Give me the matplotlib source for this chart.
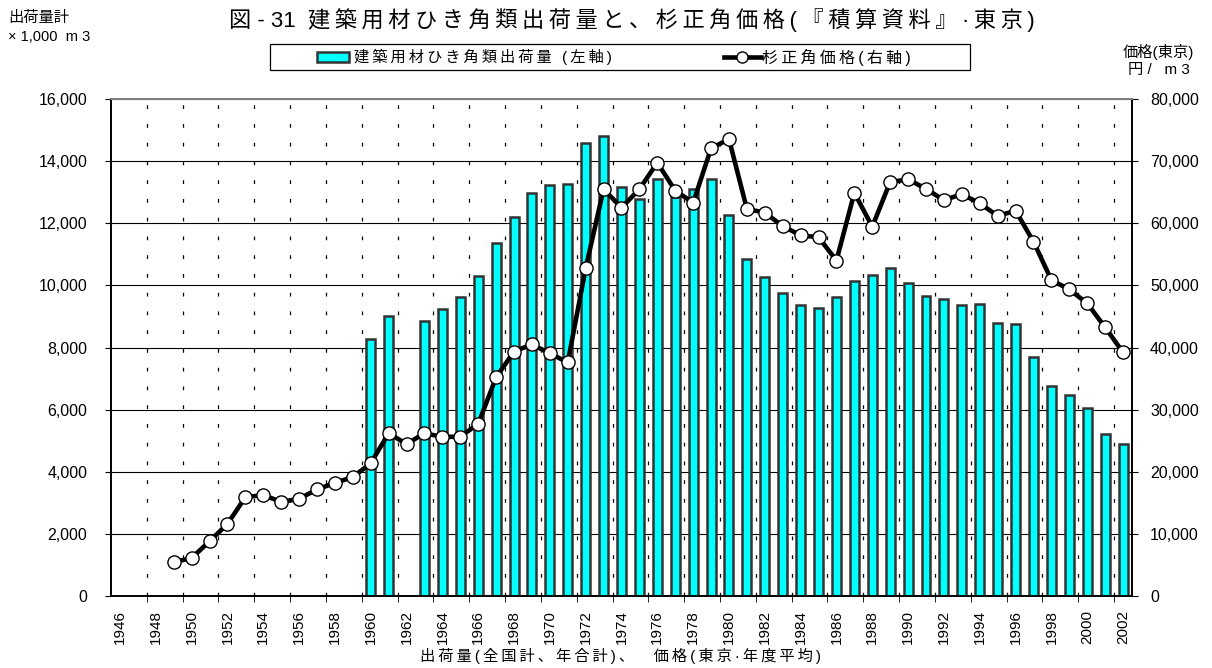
import matplotlib
matplotlib.use("Agg")
import matplotlib.pyplot as plt
import numpy as np
from matplotlib.lines import Line2D
from matplotlib.patches import Patch, Rectangle

plt.rcParams['font.family'] = ['Liberation Sans', 'Noto Sans CJK JP', 'DejaVu Sans']

years = list(range(1946, 2003))
nan = np.nan
# shipments, 1,000 m3 (left axis)
shipments = [nan] * 14 + [
    8260, 9030, nan, 8860, 9250, 9620, 10300, 11350, 12200, 12980,
    13240, 13260, 14570, 14810, 13160, 12790, 13410, 12830, 13110, 13410,
    12280, 10840, 10270, 9740, 9360, 9260, 9610, 10130, 10330, 10560,
    10090, 9660, 9570, 9360, 9400, 8780, 8760, 7700, 6760, 6460,
    6040, 5230, 4900,
]
# price, yen / m3 (right axis)
price = [nan] * 3 + [
    5420, 6120, 8800, 11600, 15900, 16250, 15150, 15650, 17150, 18200,
    19150, 21350, 26200, 24450, 26200, 25600, 25650, 27700, 35200, 39350,
    40500, 39050, 37600, 52750, 65500, 62500, 65500, 69750, 65250, 63300,
    72050, 73550, 62300, 61700, 59550, 58050, 57750, 54000, 64900, 59450,
    66650, 67050, 65550, 63700, 64700, 63200, 61200, 62000, 57050, 50850,
    49350, 47100, 43250, 39200,
]


def spaced(s):
    # thin space between characters, mimics the wide letter spacing
    return "\u2009".join(s)


x = np.arange(len(years))

fig = plt.figure(figsize=(12.12, 6.68), dpi=100)
ax = fig.add_axes([111 / 1212, 1 - 596 / 668, 1021 / 1212, 497 / 668])
ax2 = ax.twinx()

ax.bar(x, shipments, width=0.5, color='#00FFFF', edgecolor='#333333', linewidth=1.8, zorder=3)
ax2.plot(x, price, color='black', linewidth=3.3, marker='o', markersize=9.5,
         markerfacecolor='white', markeredgecolor='black', markeredgewidth=1.0, zorder=4)

ax.set_xlim(-0.5, len(years) - 0.5)
ax.set_ylim(0, 16000)
ax2.set_ylim(0, 80000)
ax.set_yticks(np.arange(0, 16001, 2000))
ax2.set_yticks(np.arange(0, 80001, 10000))
ax.set_yticklabels([f"{v:,}" for v in range(0, 16001, 2000)], fontsize=11.5)
ax2.set_yticklabels([f"{v:,}" for v in range(0, 80001, 10000)], fontsize=11.5)

ax.set_xticks(x[::2])
ax.set_xticklabels([str(y) for y in years[::2]], rotation=90, fontsize=11)
ax.set_xticks(np.arange(1.5, len(years) - 1, 2), minor=True)
ax.tick_params(axis='x', which='major', length=0, pad=10)
ax.tick_params(axis='x', which='minor', length=4, direction='out')
ax.tick_params(axis='y', length=4, direction='out', pad=13)
ax2.tick_params(axis='y', length=4, direction='out', pad=9)

ax.grid(axis='y', color='black', linewidth=0.8, zorder=0)
for b in np.arange(1.5, len(years) - 1, 2):
    ax.axvline(b, color='black', linewidth=0.9, linestyle=(0, (3, 12)), zorder=1)
ax.set_axisbelow(True)

for a in (ax, ax2):
    a.spines['top'].set_color('#808080')
    a.spines['top'].set_linewidth(1.4)
    a.spines['left'].set_linewidth(1.2)
    a.spines['right'].set_linewidth(1.2)
    a.spines['bottom'].set_linewidth(1.2)

fig.text(632 / 1212, 1 - 20 / 668,
         "図 - 31  " + spaced("建築用材ひき角類出荷量と、杉正角価格(『積算資料』·東京)"),
         ha='center', va='center', fontsize=16)
fig.text(8 / 1212, 1 - 18 / 668, "出荷量計", ha='left', va='center', fontsize=11)
fig.text(8 / 1212, 1 - 37 / 668, "× 1,000  m 3", ha='left', va='center', fontsize=10.5)
fig.text(1194 / 1212, 1 - 52 / 668, "価格(東京)", ha='right', va='center', fontsize=11)
fig.text(1190 / 1212, 1 - 70 / 668, "円 /   m 3", ha='right', va='center', fontsize=11)
fig.text(620 / 1212, 1 - 656 / 668, spaced("出荷量(全国計、年合計)、") + "　 " + spaced("価格(東京·年度平均)"),
         ha='center', va='center', fontsize=11)

# legend box with two entries
fig.patches.append(Rectangle((270 / 1212, 1 - 70 / 668), 700 / 1212, 26 / 668,
                             transform=fig.transFigure, facecolor='white',
                             edgecolor='black', linewidth=0.9))
bar_handle = Patch(facecolor='#00FFFF', edgecolor='#333333', linewidth=1.8)
line_handle = Line2D([0], [0], color='black', linewidth=3.3, marker='o', markersize=8,
                     markerfacecolor='white', markeredgecolor='black')
fig.legend([bar_handle], [spaced("建築用材ひき角類出荷量 (左軸)")], loc='center left',
           bbox_to_anchor=(317 / 1212, 1 - 57 / 668), frameon=False, fontsize=11,
           borderpad=0, borderaxespad=0, handlelength=2.1, handleheight=0.6, handletextpad=0.3)
fig.legend([line_handle], [spaced("杉正角価格(右軸)")], loc='center left',
           bbox_to_anchor=(724 / 1212, 1 - 57 / 668), frameon=False, fontsize=11.5,
           borderpad=0, borderaxespad=0, handlelength=2.3, handletextpad=0.1)

fig.savefig("out.png", dpi=100)
